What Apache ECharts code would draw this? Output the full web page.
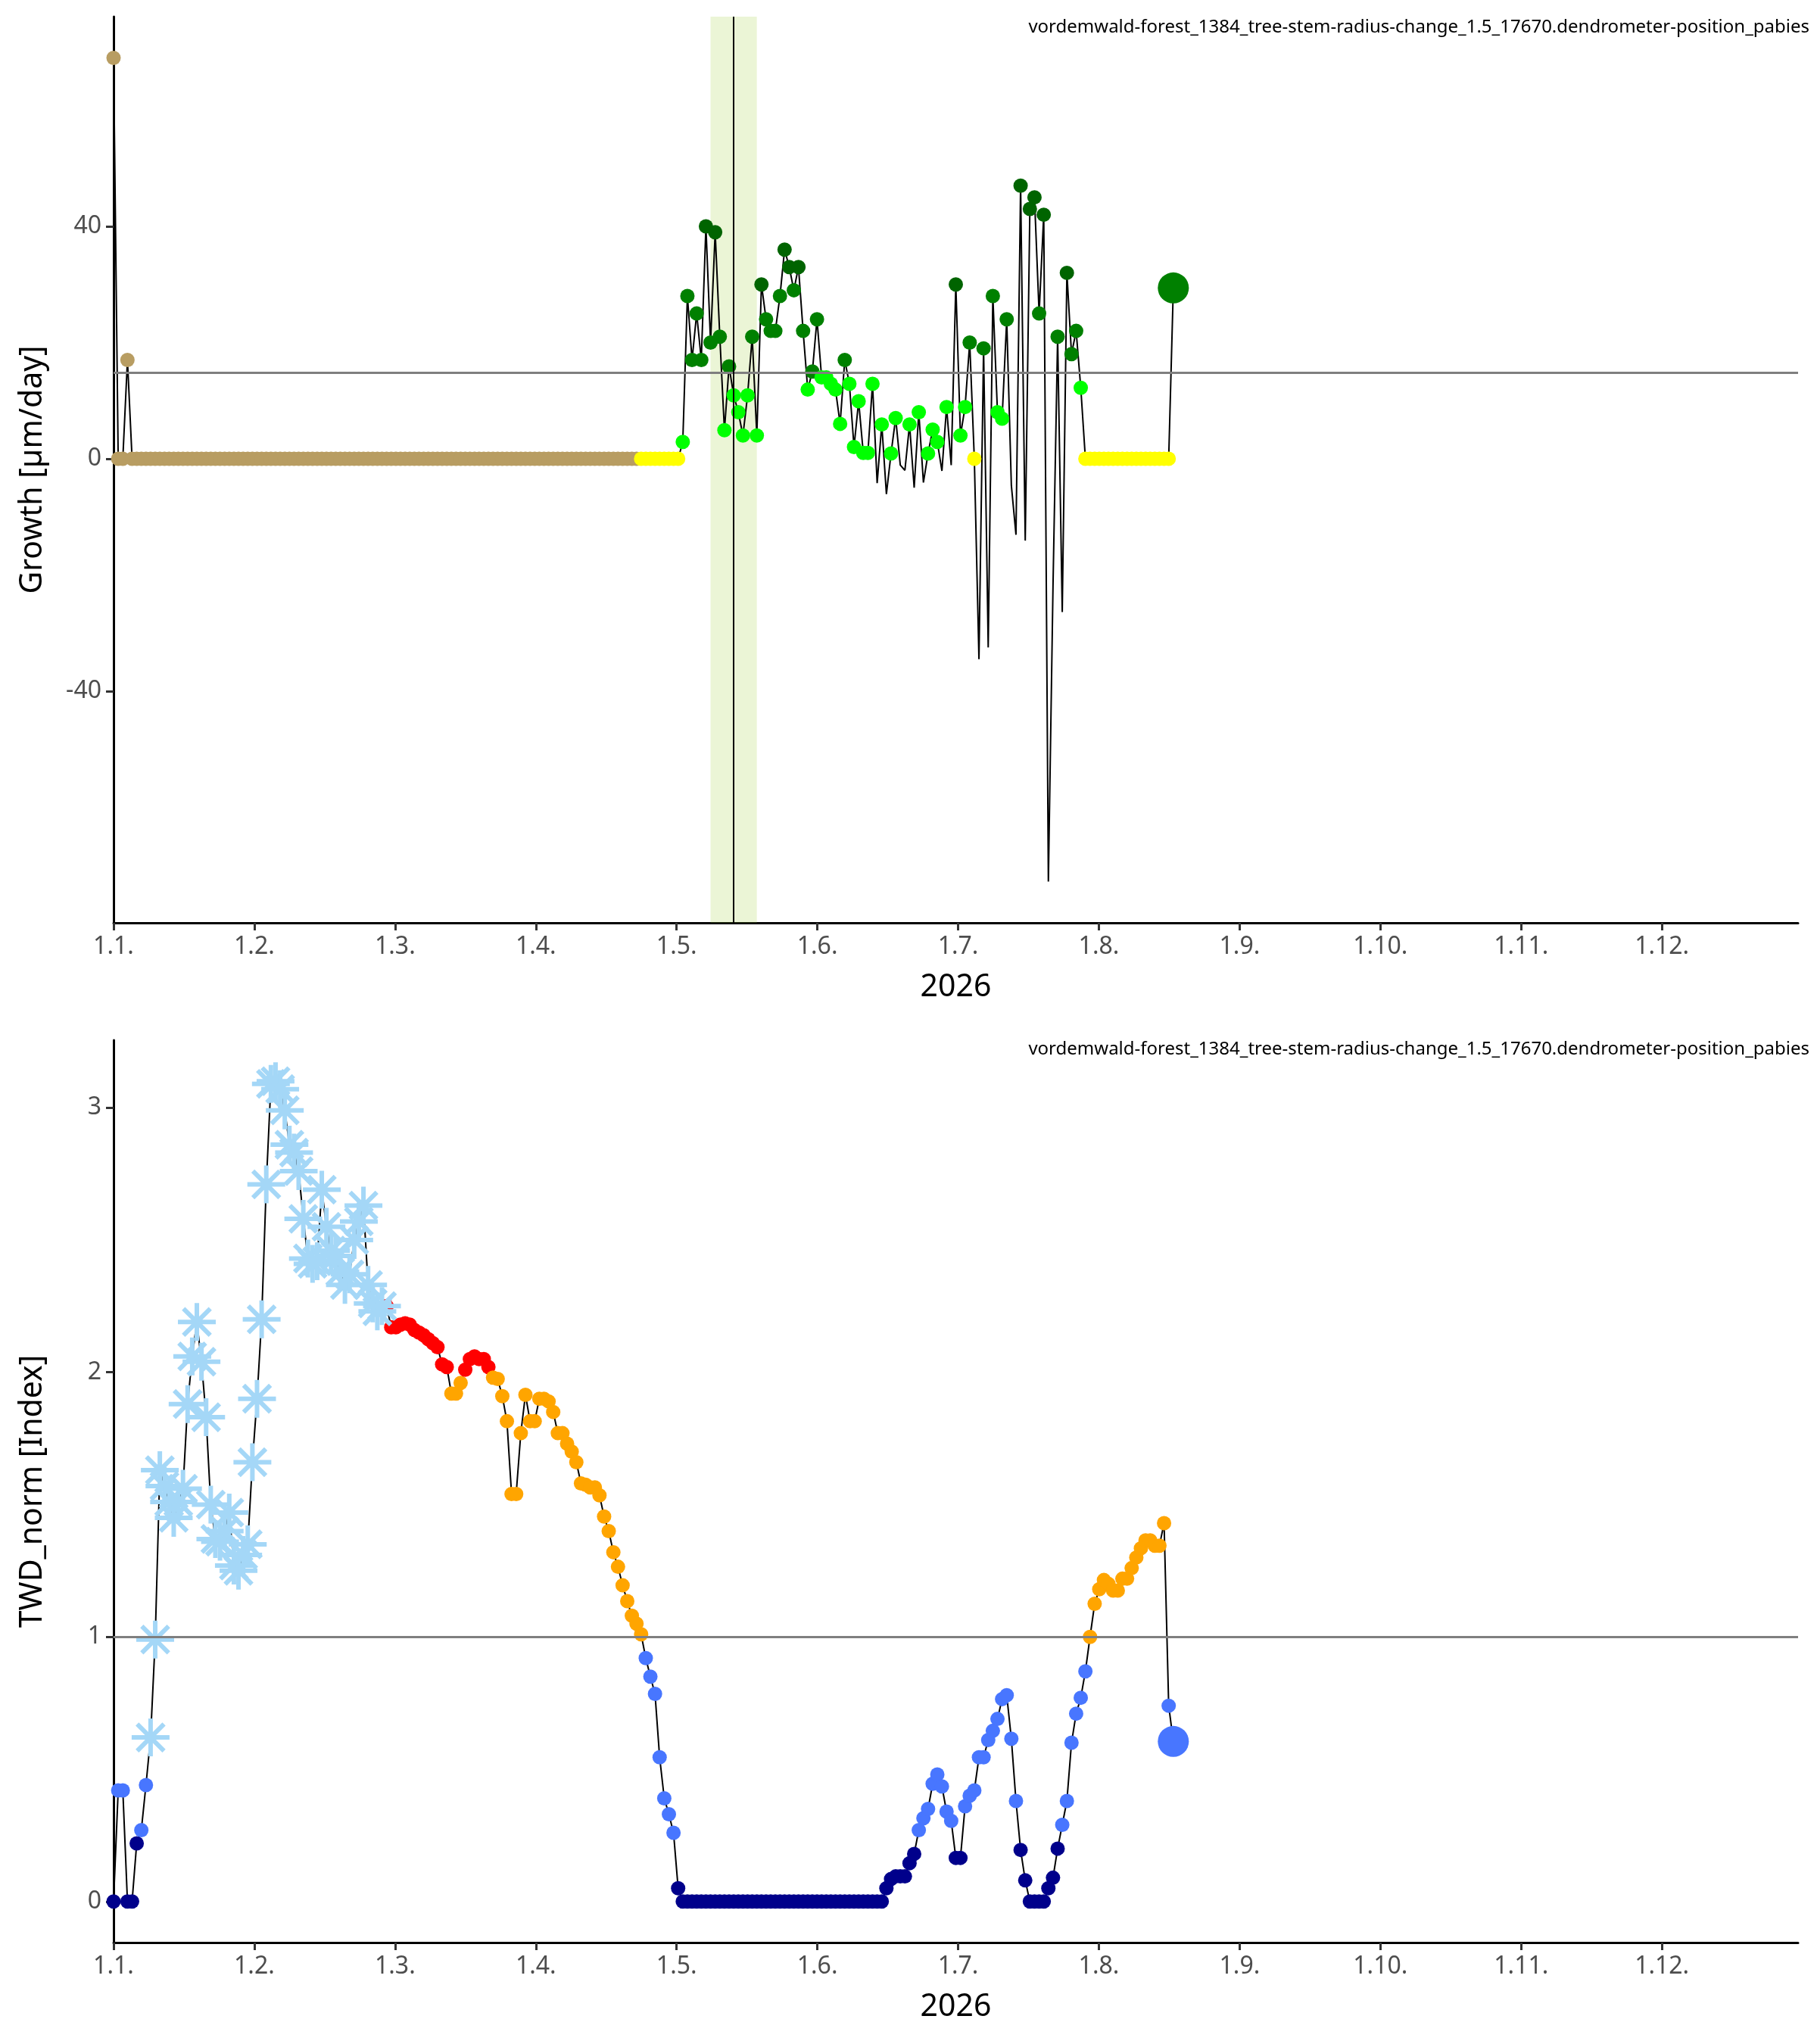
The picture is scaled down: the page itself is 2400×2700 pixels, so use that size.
<!DOCTYPE html>
<html>
<head>
<meta charset="utf-8">
<title>dendrometer growth / TWD</title>
<script src="https://cdn.jsdelivr.net/npm/echarts@6/dist/echarts.min.js"></script>
<style>
  html, body { margin: 0; padding: 0; background: #fff; }
  #chart { width: 2400px; height: 2700px; }
</style>
</head>
<body>
<div id="chart"></div>
<script>
// Two stacked panels for one dendrometer: daily growth (top) and
// normalised tree water deficit (bottom). x = days since 1 Jan 2026.

const SENSOR_LABEL = 'vordemwald-forest_1384_tree-stem-radius-change_1.5_17670.dendrometer-position_pabies';
const YEAR_LABEL = '2026';

const MONTH_TICK_DAYS = [0, 30.42, 60.83, 91.25, 121.67, 152.08, 182.5, 212.92, 243.33, 273.75, 304.17, 334.58];
const MONTH_TICK_LABELS = ['1.1.', '1.2.', '1.3.', '1.4.', '1.5.', '1.6.', '1.7.', '1.8.', '1.9.', '1.10.', '1.11.', '1.12.'];

// Growth [µm/day], one value per day starting 1 Jan (10 per row)
const GROWTH = [
  69, 0, 0, 17, 0, 0, 0, 0, 0, 0,                       // 0
  0, 0, 0, 0, 0, 0, 0, 0, 0, 0,                         // 10
  0, 0, 0, 0, 0, 0, 0, 0, 0, 0,                         // 20
  0, 0, 0, 0, 0, 0, 0, 0, 0, 0,                         // 30
  0, 0, 0, 0, 0, 0, 0, 0, 0, 0,                         // 40
  0, 0, 0, 0, 0, 0, 0, 0, 0, 0,                         // 50
  0, 0, 0, 0, 0, 0, 0, 0, 0, 0,                         // 60
  0, 0, 0, 0, 0, 0, 0, 0, 0, 0,                         // 70
  0, 0, 0, 0, 0, 0, 0, 0, 0, 0,                         // 80
  0, 0, 0, 0, 0, 0, 0, 0, 0, 0,                         // 90
  0, 0, 0, 0, 0, 0, 0, 0, 0, 0,                         // 100
  0, 0, 0, 0, 0, 0, 0, 0, 0, 0,                         // 110
  0, 0, 0, 2.9, 28, 17, 25, 17, 40, 20,                 // 120
  39, 21, 4.9, 15.9, 10.9, 8, 4, 10.9, 21, 4,           // 130
  30, 24, 22, 22, 28, 36, 33, 29, 33, 22,               // 140
  11.9, 15, 24, 14, 14, 12.9, 11.9, 6, 17, 12.9,        // 150
  2, 9.9, 1, 1, 12.9, -4.2, 5.9, -6.1, 0.9, 7,          // 160
  -1.1, -2, 5.9, -5, 8, -4.1, 0.9, 5, 2.9, -2.1,        // 170
  8.9, -1.1, 30, 4, 8.9, 20, 0, -34.5, 19, -32.5,       // 180
  28, 8, 6.9, 24, -4.6, -13.1, 47, -14.1, 43, 45,       // 190
  25, 42, -72.8, -22, 21, -26.4, 32, 18, 22, 12.2,      // 200
  0, 0, 0, 0, 0, 0, 0, 0, 0, 0,                         // 210
  0, 0, 0, 0, 0, 0, 0, 0, 0, 29.4                       // 220
];
const GROWTH_REF = 14.8;
const GROWTH_SEASON_START = 114;   // first day counted as growing season
const HIGHLIGHT_BAND = [129, 139];
const HIGHLIGHT_DAY = 134;

// TWD_norm [Index], same days
const TWD_NORM = [
  0, 0.42, 0.42, 0, 0, 0.22, 0.27, 0.44, 0.62, 0.99,                 // 0
  1.63, 1.57, 1.51, 1.45, 1.51, 1.56, 1.88, 2.06, 2.19, 2.04,        // 10
  1.83, 1.50, 1.37, 1.36, 1.40, 1.47, 1.27, 1.25, 1.31, 1.35,        // 20
  1.66, 1.90, 2.20, 2.71, 3.09, 3.10, 3.07, 2.99, 2.86, 2.83,        // 30
  2.76, 2.58, 2.43, 2.41, 2.42, 2.69, 2.55, 2.46, 2.44, 2.38,        // 40
  2.33, 2.37, 2.50, 2.57, 2.63, 2.33, 2.26, 2.23, 2.25, 2.25,        // 50
  2.17, 2.17, 2.18, 2.185, 2.18, 2.16, 2.15, 2.14, 2.125, 2.11,      // 60
  2.095, 2.03, 2.02, 1.92, 1.92, 1.96, 2.01, 2.05, 2.06, 2.05,       // 70
  2.05, 2.02, 1.98, 1.975, 1.91, 1.815, 1.54, 1.54, 1.77, 1.915,     // 80
  1.815, 1.815, 1.90, 1.90, 1.89, 1.85, 1.77, 1.77, 1.73, 1.70,      // 90
  1.66, 1.58, 1.575, 1.565, 1.565, 1.535, 1.455, 1.40, 1.32, 1.265,  // 100
  1.195, 1.135, 1.08, 1.05, 1.01, 0.92, 0.85, 0.785, 0.545, 0.39,    // 110
  0.33, 0.26, 0.05, 0, 0, 0, 0, 0, 0, 0,                             // 120
  0, 0, 0, 0, 0, 0, 0, 0, 0, 0,                                      // 130
  0, 0, 0, 0, 0, 0, 0, 0, 0, 0,                                      // 140
  0, 0, 0, 0, 0, 0, 0, 0, 0, 0,                                      // 150
  0, 0, 0, 0, 0, 0, 0, 0.05, 0.085, 0.095,                           // 160
  0.095, 0.095, 0.145, 0.18, 0.27, 0.315, 0.35, 0.445, 0.48, 0.435,  // 170
  0.34, 0.305, 0.165, 0.165, 0.36, 0.40, 0.42, 0.545, 0.545, 0.61,   // 180
  0.645, 0.69, 0.765, 0.78, 0.615, 0.38, 0.195, 0.08, 0, 0,          // 190
  0, 0, 0.05, 0.09, 0.20, 0.29, 0.38, 0.60, 0.71, 0.77,              // 200
  0.87, 1.00, 1.125, 1.18, 1.215, 1.20, 1.175, 1.175, 1.22, 1.22,    // 210
  1.26, 1.30, 1.335, 1.365, 1.365, 1.345, 1.345, 1.43, 0.74, 0.605   // 220
];
const TWD_REF = 1;
const FROST_DAYS = [8, 58];   // first / last day drawn as snowflake

(function () {
  const el = document.getElementById('chart');
  const chart = echarts.init(el, null, { renderer: 'canvas' });

  const FONT = '"Noto Sans", "Open Sans", sans-serif';
  const LAST = GROWTH.length - 1;
  const DOT = 19;
  const BIG_DOT = 41;

  // 8-armed asterisk, same look as ggplot shape 8 (thick arms)
  const SNOWFLAKE = 'path://M0,44L100,44L100,56L0,56Z' +
    'M44,0L56,0L56,100L44,100Z' +
    'M18.88,10.40L89.60,81.12L81.12,89.60L10.40,18.88Z' +
    'M81.12,10.40L89.60,18.88L18.88,89.60L10.40,81.12Z';

  function growthColor(day, v) {
    if (day < GROWTH_SEASON_START) return '#b89d62';
    if (v === 0) return '#ffff00';
    if (v >= 2 * GROWTH_REF) return '#006400';
    if (v >= GROWTH_REF) return '#008000';
    return '#00ff00';
  }

  function twdColor(v) {
    if (v >= 2 * TWD_REF) return '#ff0000';
    if (v >= TWD_REF) return '#ffa500';
    if (v >= 0.25) return '#4876ff';
    return '#00008b';
  }

  const isFrost = d => d >= FROST_DAYS[0] && d <= FROST_DAYS[1];

  const growthLine = GROWTH.map((v, i) => [i, v]);
  const growthDots = [];
  GROWTH.forEach((v, i) => {
    if (v < 0) return;   // shrinkage days have no marker
    growthDots.push({
      value: [i, v],
      symbolSize: i === LAST ? BIG_DOT : DOT,
      itemStyle: { color: growthColor(i, v), opacity: 1 },
    });
  });

  const twdLine = TWD_NORM.map((v, i) => [i, v]);
  const twdDots = [];
  const twdSnow = [];
  TWD_NORM.forEach((v, i) => {
    if (isFrost(i)) {
      twdSnow.push([i, v]);
      return;
    }
    twdDots.push({
      value: [i, v],
      symbolSize: i === LAST ? BIG_DOT : DOT,
      itemStyle: { color: twdColor(v), opacity: 1 },
    });
  });

  function xAxis(gridIndex) {
    return {
      gridIndex,
      type: 'value',
      min: 0,
      max: 364,
      name: YEAR_LABEL,
      nameLocation: 'middle',
      nameGap: 65,
      nameTextStyle: { fontSize: 41, color: '#000', fontFamily: FONT },
      axisLine: { show: true, onZero: false, lineStyle: { color: '#000', width: 3 } },
      axisTick: { show: true, length: 10, customValues: MONTH_TICK_DAYS, lineStyle: { color: '#333', width: 3 } },
      axisLabel: {
        customValues: MONTH_TICK_DAYS,
        fontSize: 32, color: '#4d4d4d', fontFamily: FONT, margin: 16,
        formatter: v => {
          const k = MONTH_TICK_DAYS.findIndex(t => Math.abs(t - v) < 0.01);
          return k < 0 ? '' : MONTH_TICK_LABELS[k];
        },
      },
      splitLine: { show: false },
    };
  }

  function yAxis(gridIndex, name, min, max, ticks) {
    return {
      gridIndex,
      type: 'value',
      min, max,
      name,
      nameLocation: 'middle',
      nameGap: 86,
      nameTextStyle: { fontSize: 41, color: '#000', fontFamily: FONT },
      axisLine: { show: true, lineStyle: { color: '#000', width: 3 } },
      axisTick: { show: true, length: 10, customValues: ticks, lineStyle: { color: '#333', width: 3 } },
      axisLabel: { customValues: ticks, fontSize: 32, color: '#4d4d4d', fontFamily: FONT, margin: 16 },
      splitLine: { show: false },
    };
  }

  const refLine = (axisKey, value) => ({
    silent: true,
    symbol: 'none',
    label: { show: false },
    lineStyle: { color: '#7f7f7f', width: 3, type: 'solid' },
    data: [{ [axisKey]: value }],
  });

  chart.setOption({
    animation: false,
    backgroundColor: '#fff',
    textStyle: { fontFamily: FONT },
    grid: [
      { left: 150, right: 25, top: 22, height: 1197 },
      { left: 150, right: 25, top: 1374, height: 1192 },
    ],
    xAxis: [xAxis(0), xAxis(1)],
    yAxis: [
      yAxis(0, 'Growth [µm/day]', -79.9, 76.1, [-40, 0, 40]),
      yAxis(1, 'TWD_norm [Index]', -0.155, 3.255, [0, 1, 2, 3]),
    ],
    graphic: [
      { type: 'text', right: 10, top: 24, style: { text: SENSOR_LABEL, font: '24px ' + FONT, fill: '#000' } },
      { type: 'text', right: 10, top: 1374, style: { text: SENSOR_LABEL, font: '24px ' + FONT, fill: '#000' } },
    ],
    series: [
      // top panel
      {
        type: 'line', xAxisIndex: 0, yAxisIndex: 0, z: 2,
        data: growthLine, symbol: 'none',
        lineStyle: { color: '#000', width: 2 },
        emphasis: { disabled: true },
        markLine: refLine('yAxis', GROWTH_REF),
      },
      {
        type: 'scatter', xAxisIndex: 0, yAxisIndex: 0, z: 3,
        data: growthDots,
        emphasis: { disabled: true },
      },
      {
        // highlight window drawn over the points
        type: 'line', xAxisIndex: 0, yAxisIndex: 0, z: 10,
        data: [[HIGHLIGHT_DAY, 0]], symbol: 'none',
        lineStyle: { opacity: 0 },
        markArea: {
          silent: true,
          itemStyle: { color: 'rgba(154,205,50,0.2)' },
          data: [[{ xAxis: HIGHLIGHT_BAND[0] }, { xAxis: HIGHLIGHT_BAND[1] }]],
        },
        markLine: {
          silent: true, symbol: 'none', label: { show: false },
          lineStyle: { color: '#000', width: 2, type: 'solid' },
          data: [{ xAxis: HIGHLIGHT_DAY }],
        },
      },
      // bottom panel
      {
        type: 'line', xAxisIndex: 1, yAxisIndex: 1, z: 2,
        data: twdLine, symbol: 'none',
        lineStyle: { color: '#000', width: 2 },
        emphasis: { disabled: true },
        markLine: refLine('yAxis', TWD_REF),
      },
      {
        type: 'scatter', xAxisIndex: 1, yAxisIndex: 1, z: 3,
        data: twdDots,
        emphasis: { disabled: true },
      },
      {
        type: 'scatter', xAxisIndex: 1, yAxisIndex: 1, z: 4,
        data: twdSnow, symbol: SNOWFLAKE, symbolSize: 50,
        itemStyle: { color: '#a4d7f7', opacity: 1 },
        emphasis: { disabled: true },
      },
    ],
  });

  window.addEventListener('resize', () => chart.resize());
})();
</script>
</body>
</html>
